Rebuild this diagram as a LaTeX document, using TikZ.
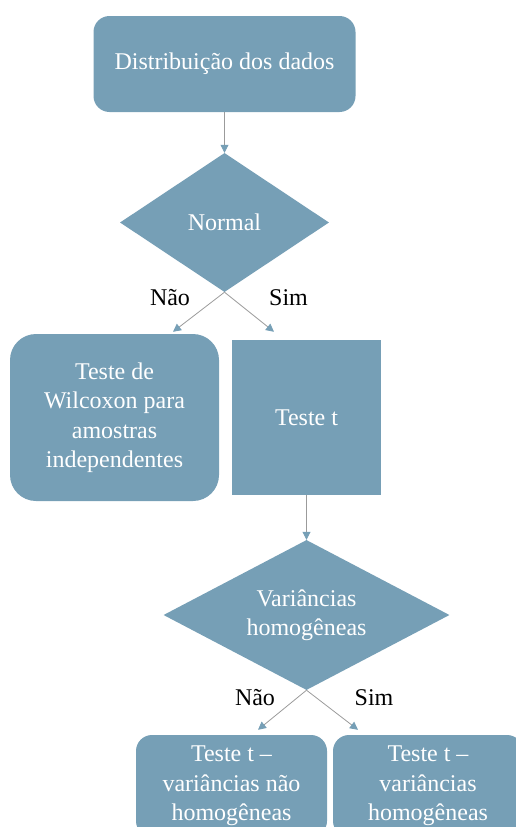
\documentclass[tikz,border=0pt]{standalone}
\usepackage{fontspec}
\setmainfont{Liberation Serif}
\usetikzlibrary{shapes.geometric, arrows.meta, calc}

\definecolor{boxblue}{RGB}{118,159,182}
\definecolor{flowgray}{RGB}{155,155,155}

\tikzset{
    box/.style={fill=boxblue, text=white, align=center, inner sep=0pt,
        font=\fontsize{24}{29.5}\selectfont},
    roundbox/.style={box, rounded corners=16pt},
    decision/.style={box, diamond, aspect=2},
    answer/.style={inner sep=0pt, font=\fontsize{24}{29.5}\selectfont},
    flow/.style={draw=flowgray, line width=0.8pt,
        -{Triangle[length=8pt,width=8pt,color=boxblue]}},
}

\begin{document}
\begin{tikzpicture}[x=1pt, y=-1pt]
        \useasboundingbox (0,0) rectangle (516,827);
        \clip (0,0) rectangle (516,827);

        \node[roundbox, minimum width=262pt, minimum height=96pt] (dist) at (224.5,64) {Distribuição dos dados};
        \node[decision, minimum width=209pt, minimum height=139pt] (normal) at (224.5,222.5) {Normal};
        \node[roundbox, rounded corners=26pt, minimum width=209pt, minimum height=167pt] (wilcoxon) at (114.5,417.5) {Teste de\\Wilcoxon para\\amostras\\independentes};
        \node[box, minimum width=149pt, minimum height=155pt] (testet) at (306.5,417.5) {Teste t};
        \node[decision, minimum width=286pt, minimum height=150pt] (variancias) at (306.5,615) {Variâncias\\homogêneas};
        \node[roundbox, minimum width=191pt, minimum height=102pt] (naohomog) at (231.5,786) {Teste t –\\variâncias não\\homogêneas};
        \node[roundbox, minimum width=190pt, minimum height=102pt] (homog) at (428,786) {Teste t –\\variâncias\\homogêneas};

        \node[answer] (nao1) at (170,298) {Não};
        \node[answer] (sim1) at (288.5,298) {Sim};
        \node[answer] (nao2) at (255,698) {Não};
        \node[answer] (sim2) at (374,698) {Sim};

        \draw[flow] (dist) -- (normal);
        \draw[flow] (normal.south) -- ($(wilcoxon.north)+(58.5,-2)$);
        \draw[flow] (normal.south) -- ($(testet.north)+(-32.5,-8)$);
        \draw[flow] (testet) -- (variancias);
        \draw[flow] (variancias.south) -- ($(naohomog.north)+(26.5,-5)$);
        \draw[flow] (variancias.south) -- ($(homog.north)+(-70,-5)$);

    \end{tikzpicture}
\end{document}
